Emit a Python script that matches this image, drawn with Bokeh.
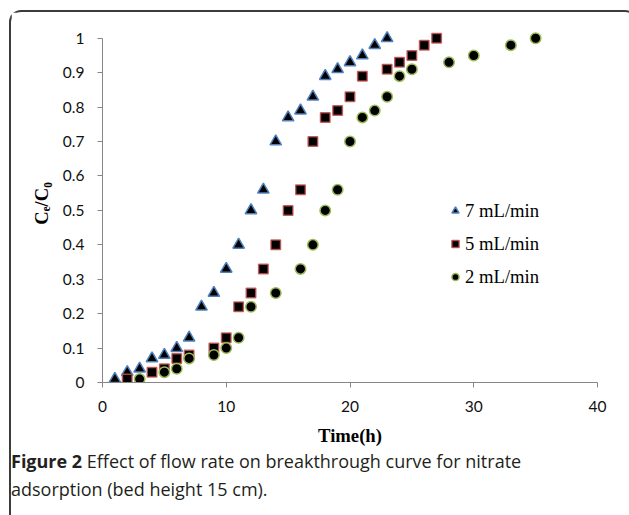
from bokeh.plotting import figure
from bokeh.models import Range1d, FixedTicker, Legend, LegendItem, Div
from bokeh.layouts import column
from bokeh.embed import file_html
from bokeh.resources import INLINE

# ---- data ----
time_7 = [1, 2, 3, 4, 5, 6, 7, 8, 9, 10, 11, 12, 13, 14, 15, 16, 17, 18, 19, 20, 21, 22, 23]
ratio_7 = [0.01, 0.03, 0.04, 0.07, 0.08, 0.10, 0.13, 0.22, 0.26, 0.33, 0.40, 0.50, 0.56,
           0.70, 0.77, 0.79, 0.83, 0.89, 0.91, 0.93, 0.95, 0.98, 1.00]

time_5 = [2, 4, 5, 6, 7, 9, 10, 11, 12, 13, 14, 15, 16, 17, 18, 19, 20, 21, 23, 24, 25, 26, 27]
ratio_5 = [0.01, 0.03, 0.04, 0.07, 0.08, 0.10, 0.13, 0.22, 0.26, 0.33, 0.40, 0.50, 0.56,
           0.70, 0.77, 0.79, 0.83, 0.89, 0.91, 0.93, 0.95, 0.98, 1.00]

time_2 = [3, 5, 6, 7, 9, 10, 11, 12, 14, 16, 17, 18, 19, 20, 21, 22, 23, 24, 25, 28, 30, 33, 35]
ratio_2 = [0.01, 0.03, 0.04, 0.07, 0.08, 0.10, 0.13, 0.22, 0.26, 0.33, 0.40, 0.50, 0.56,
           0.70, 0.77, 0.79, 0.83, 0.89, 0.91, 0.93, 0.95, 0.98, 1.00]

series_labels = ["7 mL/min", "5 mL/min", "2 mL/min"]
x_ticks = [0, 10, 20, 30, 40]
y_ticks = [0, 0.1, 0.2, 0.3, 0.4, 0.5, 0.6, 0.7, 0.8, 0.9, 1]
y_tick_labels = ["0", "0.1", "0.2", "0.3", "0.4", "0.5", "0.6", "0.7", "0.8", "0.9", "1"]
x_title = "Time(h)"
y_title = "C\u2091/C\u2080"
caption_bold = "Figure 2"
caption_line_1 = "Effect of flow rate on breakthrough curve for nitrate"
caption_line_2 = "adsorption (bed height 15 cm)."

AXIS_GREY = "#868686"
SERIF = "Liberation Serif"

p = figure(width=614, height=440, x_range=Range1d(0, 40), y_range=Range1d(0, 1.04),
           output_backend="svg", toolbar_location=None,
           min_border_left=91, min_border_right=28, min_border_top=12, min_border_bottom=70)
p.outline_line_color = None
p.grid.visible = False
p.background_fill_color = "white"
p.border_fill_color = "white"

r7 = p.scatter(time_7, ratio_7, marker="triangle", size=11.5, fill_color="black",
               line_color="#4f81bd", line_width=1.5)
r5 = p.scatter(time_5, ratio_5, marker="square", size=9.5, fill_color="black",
               line_color="#c0504d", line_width=1.5, line_alpha=0.85)
r2 = p.scatter(time_2, ratio_2, marker="circle", size=10.5, fill_color="black",
               line_color="#9bbb59", line_width=1.5)

for ax in (p.xaxis[0], p.yaxis[0]):
    ax.axis_line_color = AXIS_GREY
    ax.major_tick_line_color = AXIS_GREY
    ax.minor_tick_line_color = None
    ax.major_tick_in = 0
    ax.major_tick_out = 5
    ax.major_label_text_font = "Lato"
    ax.major_label_text_font_size = "15.5px"
    ax.major_label_text_color = "#111111"
    ax.axis_label_text_font = SERIF
    ax.axis_label_text_font_style = "bold"
    ax.axis_label_text_font_size = "18.67px"
    ax.axis_label_text_color = "black"

xa = p.xaxis[0]
xa.ticker = FixedTicker(ticks=x_ticks)
xa.major_label_standoff = 13
xa.axis_label = x_title
xa.axis_label_standoff = 10

ya = p.yaxis[0]
ya.ticker = FixedTicker(ticks=y_ticks)
ya.major_label_overrides = dict(zip(y_ticks, y_tick_labels))
ya.major_label_standoff = 13
ya.bounds = (0, 1)
ya.axis_label = y_title
ya.axis_label_standoff = 8

legend = Legend(items=[LegendItem(label=series_labels[0], renderers=[r7]),
                       LegendItem(label=series_labels[1], renderers=[r5]),
                       LegendItem(label=series_labels[2], renderers=[r2])],
                location=(344, 89), background_fill_alpha=0, border_line_color=None,
                padding=0, margin=0, spacing=0, glyph_width=18, glyph_height=33,
                label_height=33, label_standoff=1, label_text_font=SERIF,
                label_text_font_size="18.67px", label_text_color="black")
p.add_layout(legend)

cap = Div(text=(f'<div style="font-family:\'Open Sans\';font-size:18px;line-height:28px;color:#231f20;'
                f'margin-top:-10px;margin-left:-5px;white-space:nowrap">'
                f'<b>{caption_bold}</b> {caption_line_1}<br>{caption_line_2}</div>'),
          width=614, height=60)

layout = column(p, cap, styles={"border": "2px solid #3c3c3c", "border-bottom": "none",
                                "border-radius": "12px 12px 0 0",
                                "margin-top": "10px", "margin-left": "9px"})

open("out.html", "w").write(file_html(layout, INLINE))
